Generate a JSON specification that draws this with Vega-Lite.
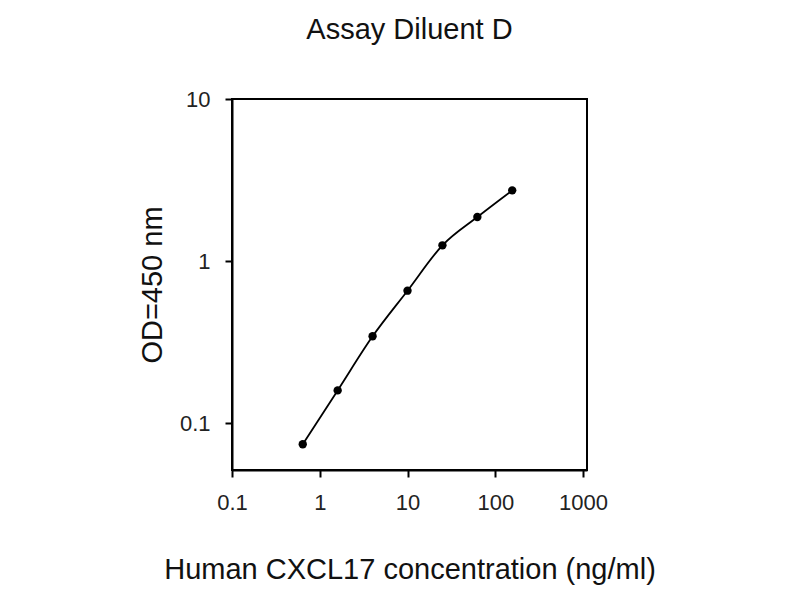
{
  "$schema": "https://vega.github.io/schema/vega-lite/v6.json",
  "width": 355,
  "height": 371,
  "autosize": "none",
  "padding": {"left": 232, "top": 99, "right": 213, "bottom": 130},
  "background": "white",
  "title": {
    "text": "Assay Diluent D",
    "font": "Liberation Sans",
    "fontSize": 29,
    "fontWeight": "normal",
    "color": "#111111",
    "anchor": "middle",
    "offset": 43
  },
  "config": {
    "view": {"stroke": "black", "strokeWidth": 2},
    "axis": {
      "grid": false,
      "domainColor": "black",
      "domainWidth": 2,
      "tickColor": "black",
      "tickWidth": 2,
      "tickSize": 7,
      "labelFont": "Liberation Sans",
      "labelColor": "#222222",
      "titleFont": "Liberation Sans",
      "titleColor": "#111111",
      "titleFontWeight": "normal"
    }
  },
  "data": {
    "values": [
      {"conc": 0.64, "od": 0.074},
      {"conc": 1.6, "od": 0.159},
      {"conc": 4, "od": 0.343},
      {"conc": 10, "od": 0.656},
      {"conc": 25, "od": 1.25},
      {"conc": 62.5, "od": 1.87},
      {"conc": 156, "od": 2.73}
    ]
  },
  "encoding": {
    "x": {
      "field": "conc",
      "type": "quantitative",
      "scale": {"type": "log", "domain": [0.1, 1110], "nice": false},
      "axis": {
        "values": [0.1, 1, 10, 100, 1000],
        "format": "~g",
        "labelFontSize": 22,
        "labelPadding": 15,
        "labelFlush": false,
        "title": "Human CXCL17 concentration (ng/ml)",
        "titleFontSize": 29,
        "titlePadding": 42
      }
    },
    "y": {
      "field": "od",
      "type": "quantitative",
      "scale": {"type": "log", "domain": [0.0513, 10], "nice": false},
      "axis": {
        "values": [0.1, 1, 10],
        "format": "~g",
        "labelFontSize": 22,
        "labelPadding": 15,
        "labelFlush": false,
        "title": "OD=450 nm",
        "titleFontSize": 29,
        "titlePadding": 12
      }
    }
  },
  "layer": [
    {
      "mark": {"type": "line", "color": "black", "strokeWidth": 1.8, "interpolate": "monotone"}
    },
    {
      "mark": {"type": "circle", "color": "black", "opacity": 1, "size": 70}
    }
  ]
}
